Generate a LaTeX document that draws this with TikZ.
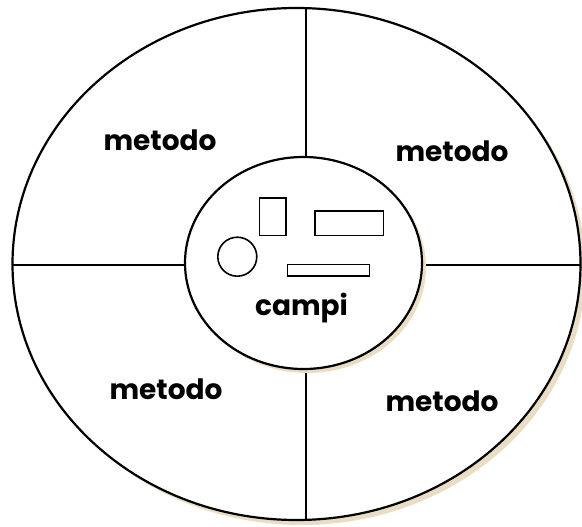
\documentclass[tikz,border=0pt]{standalone}
\usepackage{fontspec}
\setmainfont{Poppins}
\usetikzlibrary{shapes.geometric}
\definecolor{shadowtan}{RGB}{234,221,197}
\tikzset{
  rim/.style={ellipse, draw=black, line width=2.2pt, fill=white, inner sep=0pt},
  drop/.style={ellipse, fill=shadowtan, inner sep=0pt},
  divider/.style={draw=black, line width=2.2pt},
  part/.style={draw=black, line width=1.6pt, inner sep=0pt},
  lbl/.style={font=\bfseries\fontsize{28}{32}\selectfont, anchor=base, inner sep=0pt}
}
\begin{document}
\begin{tikzpicture}[x=1pt, y=-1pt]
  \clip (0,0) rectangle (582,527);
  \fill[white] (0,0) rectangle (582,527);

  % outer ring with its drop shadow
  \node[drop, minimum width=568pt, minimum height=512pt] (outershadow) at (301.5,269) {};
  \node[rim, minimum width=568pt, minimum height=512pt] (outer) at (296.5,264) {};

  % the four dividers, ending under the inner ellipse
  \coordinate (ctr) at (306,265);
  \coordinate (top) at (306,8);
  \coordinate (bottom) at (306,520);
  \coordinate (left) at (12.5,265);
  \coordinate (right) at (581,265);
  \draw[divider] (top) -- (ctr);
  \draw[divider] (bottom) -- (ctr);
  \draw[divider] (left) -- (ctr);
  \draw[divider] (right) -- (ctr);

  % inner ellipse with its drop shadow
  \node[drop, minimum width=237pt, minimum height=212pt] (innershadow) at (307.5,267) {};
  \node[rim, minimum width=237pt, minimum height=212pt] (inner) at (303.5,263) {};

  % fields drawn inside
  \node[part, rectangle, minimum width=26.4pt, minimum height=37.6pt] (tallbox) at (272.5,216.5) {};
  \node[part, rectangle, minimum width=68.3pt, minimum height=24.3pt] (widebox) at (349.2,223.2) {};
  \node[part, rectangle, minimum width=82pt, minimum height=11.3pt] (thinbox) at (328.3,270.3) {};
  \node[part, circle, minimum size=39pt] (dot) at (237.3,256.7) {};

  % labels
  \node[lbl] (m1) at (160,150) {metodo};
  \node[lbl] (m2) at (452,161.3) {metodo};
  \node[lbl] (m3) at (166,399) {metodo};
  \node[lbl] (m4) at (442,411.8) {metodo};
  \node[lbl] (fields) at (301.5,315.7) {campi};
\end{tikzpicture}
\end{document}
